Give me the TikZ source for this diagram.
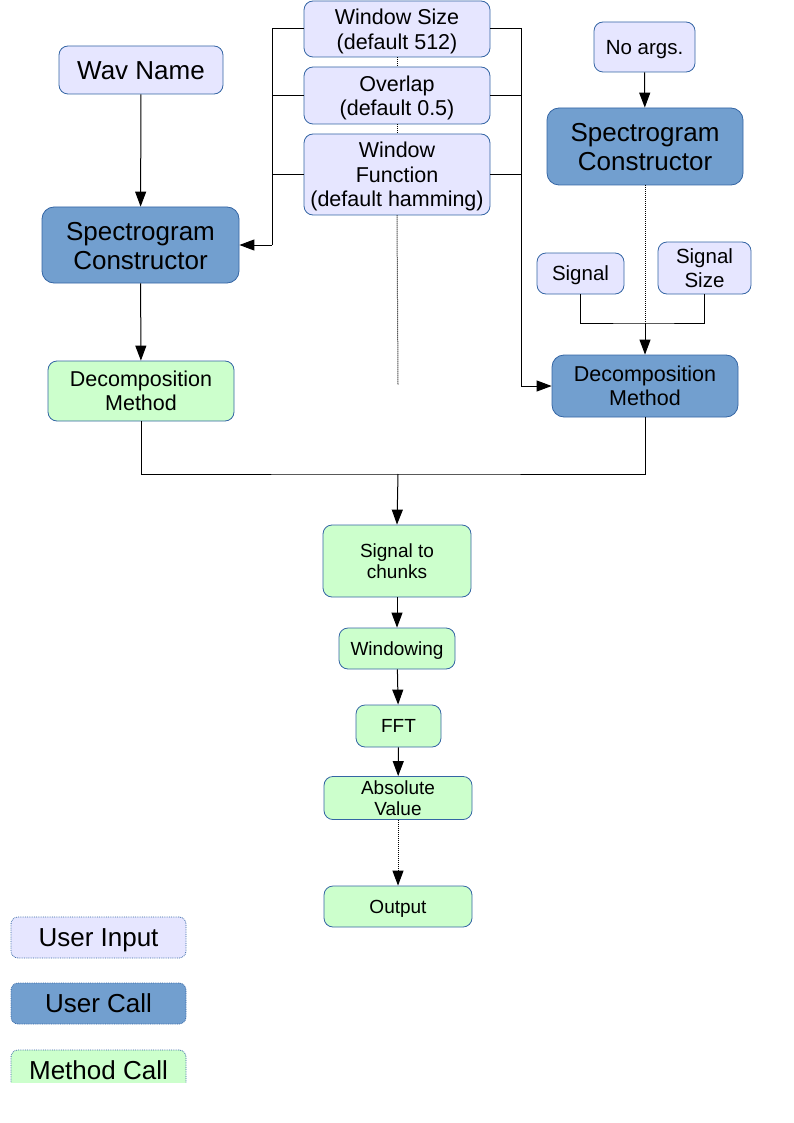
\documentclass[tikz,border=0pt]{standalone}
\usepackage{fontspec}
\setmainfont{Liberation Sans}
\usetikzlibrary{arrows.meta}

\definecolor{inputfill}{HTML}{E6E6FF}
\definecolor{callfill}{HTML}{729FCF}
\definecolor{methodfill}{HTML}{CCFFCC}
\definecolor{edgeblue}{HTML}{3465A4}

\newcommand{\topstrut}{\rule{0pt}{0.905em}}
\newcommand{\botstrut}{\rule[-0.212em]{0pt}{0pt}}
\newcommand{\lowstrut}{\rule{0pt}{0.95em}}

\begin{document}
\begin{tikzpicture}[x=1pt, y=-1pt, line width=1pt,
    box/.style={draw=edgeblue, line width=0.8pt, rounded corners=9pt, align=center, inner sep=0pt,
        execute at begin node=\topstrut, execute at end node=\botstrut},
    userin/.style={box, fill=inputfill, font=\fontsize{21.5}{24.6}\selectfont},
    usercall/.style={box, fill=callfill, rounded corners=12pt, font=\fontsize{26}{29}\selectfont},
    method/.style={box, fill=methodfill, font=\fontsize{19}{21.5}\selectfont},
    legend/.style={box, densely dotted, rounded corners=7pt, font=\fontsize{26}{29}\selectfont},
    arr/.style={-{Triangle[length=15pt,width=11pt]}}]
    \useasboundingbox (0,0) rectangle (794,1123);

    % left branch
    \node (wav) at (141,70) [userin, font=\fontsize{26}{29}\selectfont, minimum width=164pt, minimum height=48pt] {Wav Name};
    \node (lsc) at (140.5,245) [usercall, minimum width=197pt, minimum height=76pt] {\lowstrut Spectrogram\\Constructor};
    \node (ldm) at (141,391) [method, font=\fontsize{21.5}{24}\selectfont, minimum width=186pt, minimum height=60pt] {\lowstrut Decomposition\\Method};

    % parameters
    \node (ws) at (397,29) [userin, minimum width=186pt, minimum height=56pt] {\lowstrut Window Size\\(default 512)};
    \node (ov) at (397,95.5) [userin, minimum width=186pt, minimum height=57pt] {\lowstrut Overlap\\(default 0.5)};
    \node (wf) at (397,174.5) [userin, font=\fontsize{21.5}{24.5}\selectfont, minimum width=186pt, minimum height=81pt] {\lowstrut Window\\Function\\(default hamming)};

    % right branch
    \node (noargs) at (644.5,47) [userin, font=\fontsize{20.5}{24}\selectfont, minimum width=101pt, minimum height=50pt] {No args.};
    \node (rsc) at (645,146.5) [usercall, minimum width=196pt, minimum height=77pt] {\lowstrut Spectrogram\\Constructor};
    \node (sig) at (580.5,273.5) [userin, font=\fontsize{20.5}{24}\selectfont, minimum width=87pt, minimum height=41pt] {Signal};
    \node (sigsize) at (704.5,268) [userin, font=\fontsize{20.5}{23.5}\selectfont, minimum width=93pt, minimum height=52pt] {\lowstrut Signal\\Size};
    \node (rdm) at (645,386) [usercall, font=\fontsize{21.5}{24}\selectfont, minimum width=186pt, minimum height=62pt] {\lowstrut Decomposition\\Method};

    % processing chain
    \node (chunks) at (397,561) [method, minimum width=148pt, minimum height=72pt] {\lowstrut Signal to\\chunks};
    \node (win) at (397,648.5) [method, minimum width=116pt, minimum height=41pt] {Windowing};
    \node (fft) at (398.5,726) [method, minimum width=85pt, minimum height=42pt] {FFT};
    \node (abs) at (398,798) [method, font=\fontsize{19}{21}\selectfont, minimum width=148pt, minimum height=42pt] {\lowstrut Absolute\\Value};
    \node (out) at (398,906.5) [method, minimum width=148pt, minimum height=41pt] {Output};

    % legend
    \node (leginput) at (98.5,937.5) [legend, fill=inputfill, minimum width=175pt, minimum height=41pt] {User Input};
    \node (legcall) at (98.5,1003.5) [legend, fill=callfill, minimum width=175pt, minimum height=41pt] {User Call};
    \begin{scope}
        \clip (0,1040) rectangle (200,1082);
        \node (legmethod) at (98.5,1070.5) [legend, fill=methodfill, minimum width=175pt, minimum height=41pt] {Method Call};
    \end{scope}

    \coordinate (lbar) at (272,245);
    \coordinate (rbar) at (521,386);
    \coordinate (dotend) at (398,385);
    \coordinate (rjoin) at (645,323);
    \coordinate (merge) at (398,474);

    % connectors
    \draw[arr] (wav) -- (lsc);
    \draw[arr] (lsc) -- (ldm);
    \draw (ws.west) -| (lbar);
    \draw (ov.west) -- (ov.west -| lbar);
    \draw (wf.west) -- (wf.west -| lbar);
    \draw[arr] (lbar) -- (lsc.east);
    \draw (ws.east) -| (rbar);
    \draw (ov.east) -- (ov.east -| rbar);
    \draw (wf.east) -- (wf.east -| rbar);
    \draw[arr] (rbar) -- (rdm.west);
    \draw[densely dotted] (ws.south) -- (ov.north);
    \draw[densely dotted] (ov.south) -- (wf.north);
    \draw[densely dotted] (wf.south) -- (dotend);

    \draw[arr] (noargs) -- (rsc);
    \draw[densely dotted] (rsc.south) -- (rjoin);
    \draw (sig.south) |- (rjoin) -| (sigsize.south);
    \draw[arr] (rjoin) -- (rdm.north);

    \draw (ldm.south) |- (merge) -| (rdm.south);
    \draw[arr] (merge) -- (chunks.north);
    \draw[arr] (chunks) -- (win);
    \draw[arr] (win) -- (fft);
    \draw[arr] (fft) -- (abs);
    \draw[arr, densely dotted] (abs) -- (out);
\end{tikzpicture}
\end{document}
